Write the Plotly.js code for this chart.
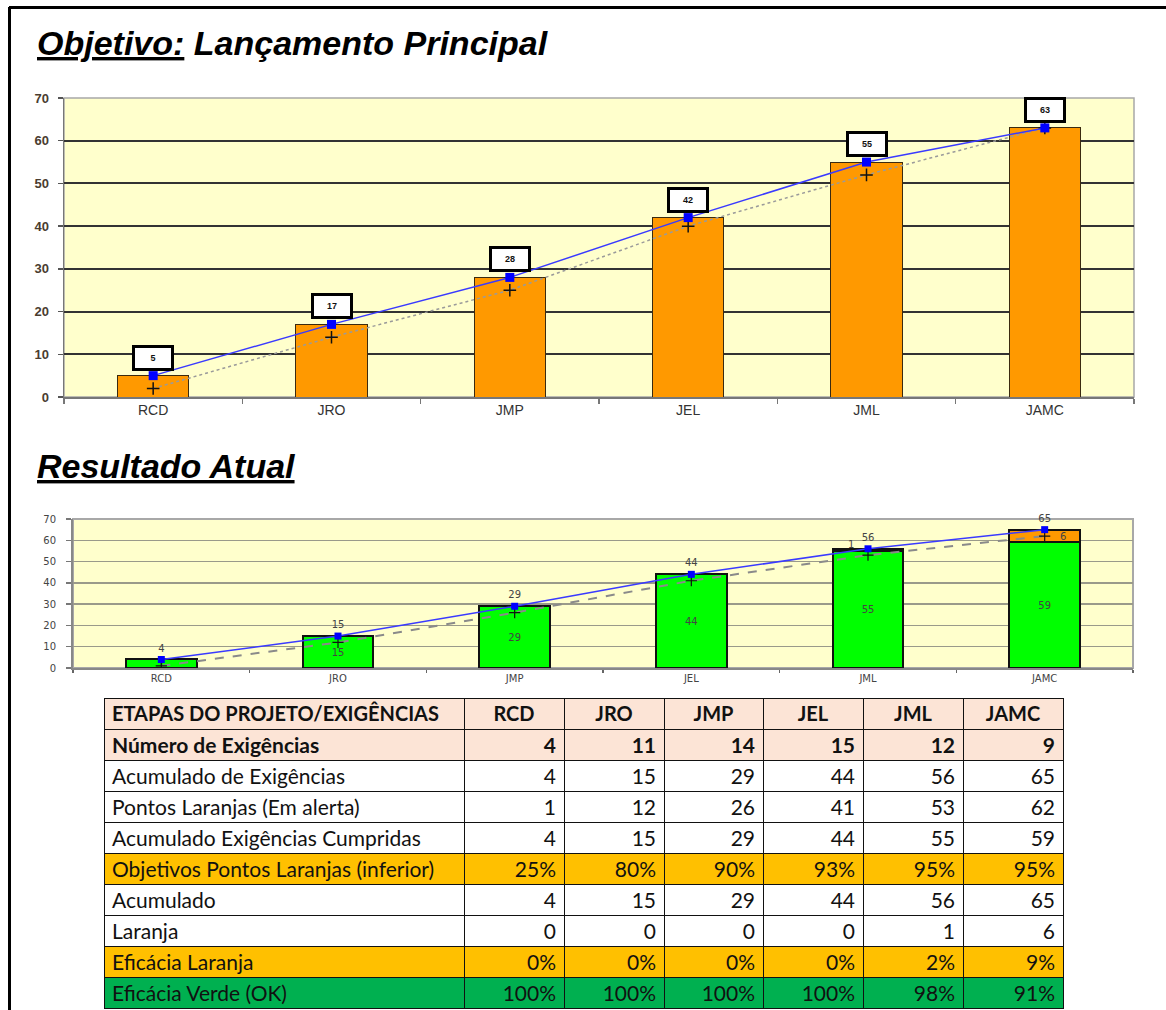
<!DOCTYPE html>
<html>
<head>
<meta charset="utf-8">
<script src="https://cdn.plot.ly/plotly-3.0.1.min.js"></script>
<style>html,body{margin:0;padding:0;background:#fff;}#chart{width:1166px;height:1010px;}</style>
</head>
<body>
<div id="chart"></div>
<script>
// ---------- DATA ----------
const categories = ['RCD', 'JRO', 'JMP', 'JEL', 'JML', 'JAMC'];
// Top chart: Objetivo
const objetivo = [5, 17, 28, 42, 55, 63];
const objetivoMinimo = [2, 14, 25, 40, 52, 63];
// Table rows
const rowLabels = [
  'Número de Exigências',
  'Acumulado de Exigências',
  'Pontos Laranjas (Em alerta)',
  'Acumulado Exigências Cumpridas',
  'Objetivos Pontos Laranjas (inferior)',
  'Acumulado',
  'Laranja',
  'Eficácia Laranja',
  'Eficácia Verde (OK)'
];
const tableHeaderLabel = 'ETAPAS DO PROJETO/EXIGÊNCIAS';
const numeroExigencias = [4, 11, 14, 15, 12, 9];
const acumuladoExigencias = [4, 15, 29, 44, 56, 65];
const pontosLaranjas = [1, 12, 26, 41, 53, 62];
const acumuladoCumpridas = [4, 15, 29, 44, 55, 59];
const objetivosPontosLaranjasPct = [25, 80, 90, 93, 95, 95];
const acumulado = [4, 15, 29, 44, 56, 65];
const laranja = [0, 0, 0, 0, 1, 6];
const eficaciaLaranjaPct = [0, 0, 0, 0, 2, 9];
const eficaciaVerdePct = [100, 100, 100, 100, 98, 91];

// ---------- HELPERS ----------
const W = 1166, H = 1010;
const px = v => v / W;
const py = v => 1 - v / H;

const ORANGE = '#FF9900';
const GREEN = '#00FF00';
const BLUE = '#0000FF';
const BLUE_LINE = '#3a3aff';
const SMALL_FONT = { family: 'DejaVu Sans', size: 10, color: '#444' };

// ---------- TRACES ----------
const traces = [];
// Top chart
traces.push({
  type: 'bar', x: categories, y: objetivo, xaxis: 'x', yaxis: 'y',
  marker: { color: ORANGE, line: { color: '#3a2a10', width: 1 } },
  hoverinfo: 'skip'
});
traces.push({
  type: 'scatter', mode: 'lines+markers', x: categories, y: objetivoMinimo, xaxis: 'x', yaxis: 'y',
  line: { color: '#9a9a9a', width: 1.5, dash: 'dot' },
  marker: { symbol: 'cross-thin', size: 9, line: { color: '#111', width: 1.5 }, color: '#111' },
  hoverinfo: 'skip'
});
traces.push({
  type: 'scatter', mode: 'lines+markers', x: categories, y: objetivo, xaxis: 'x', yaxis: 'y',
  line: { color: BLUE_LINE, width: 1.5 },
  marker: { symbol: 'square', size: 9, color: BLUE },
  hoverinfo: 'skip'
});
// Bottom chart
traces.push({
  type: 'bar', x: categories, y: acumuladoCumpridas, xaxis: 'x2', yaxis: 'y2',
  marker: { color: GREEN, line: { color: '#111', width: 2 } },
  text: acumuladoCumpridas.map(String), textposition: 'inside', insidetextanchor: 'middle',
  textfont: SMALL_FONT,
  hoverinfo: 'skip'
});
traces.push({
  type: 'bar', x: categories, y: laranja, xaxis: 'x2', yaxis: 'y2',
  marker: { color: ORANGE, line: { color: '#111', width: 2 } },
  hoverinfo: 'skip'
});
traces.push({
  type: 'scatter', mode: 'lines+markers', x: categories, y: pontosLaranjas, xaxis: 'x2', yaxis: 'y2',
  line: { color: '#8a8a8a', width: 2, dash: 'dash' },
  marker: { symbol: 'cross-thin', size: 8, line: { color: '#111', width: 1.2 }, color: '#111' },
  hoverinfo: 'skip'
});
traces.push({
  type: 'scatter', mode: 'lines+markers+text', x: categories, y: acumulado, xaxis: 'x2', yaxis: 'y2',
  line: { color: BLUE_LINE, width: 1.5 },
  marker: { symbol: 'square', size: 7, color: BLUE },
  text: acumulado.map(String), textposition: 'top center', cliponaxis: false,
  textfont: SMALL_FONT,
  hoverinfo: 'skip'
});

// Table
const pct = a => a.map(v => v + '%');
const dataRows = [
  numeroExigencias.map(String),
  acumuladoExigencias.map(String),
  pontosLaranjas.map(String),
  acumuladoCumpridas.map(String),
  pct(objetivosPontosLaranjasPct),
  acumulado.map(String),
  laranja.map(String),
  pct(eficaciaLaranjaPct),
  pct(eficaciaVerdePct)
];
const rowFill = ['#FCE4D6', '#FFFFFF', '#FFFFFF', '#FFFFFF', '#FFC000', '#FFFFFF', '#FFFFFF', '#FFC000', '#00B050'];
const rowWeight = rowLabels.map((l, i) => i === 0 ? 'bold' : 'normal');
const cellValues = [rowLabels].concat(categories.map((c, ci) => dataRows.map(r => r[ci])));
const cellFill = cellValues.map(() => rowFill);
const cellWeight = cellValues.map(() => rowWeight);
traces.push({
  type: 'table',
  domain: { x: [px(104), px(1063)], y: [0, py(698)] },
  columnwidth: [360, 100, 100, 99, 100, 100, 100],
  header: {
    values: [tableHeaderLabel].concat(categories),
    align: ['left'].concat(categories.map(() => 'center')),
    fill: { color: '#FCE4D6' },
    line: { color: '#111', width: 1 },
    font: { family: 'Lato', size: 20, weight: 'bold', color: '#111' },
    height: 31
  },
  cells: {
    values: cellValues,
    align: ['left'].concat(categories.map(() => 'right')),
    fill: { color: cellFill },
    line: { color: '#111', width: 1 },
    font: { family: 'Lato', size: 21, weight: cellWeight, color: '#111' },
    height: 31
  }
});

// ---------- ANNOTATIONS ----------
const annotations = [];
annotations.push({
  xref: 'paper', yref: 'paper', x: px(35), y: py(43), xanchor: 'left', yanchor: 'middle',
  text: '<u>Objetivo:</u> Lançamento Principal', showarrow: false,
  font: { family: 'Liberation Sans', size: 34, weight: 'bold', style: 'italic', color: '#000' }
});
annotations.push({
  xref: 'paper', yref: 'paper', x: px(35), y: py(466), xanchor: 'left', yanchor: 'middle',
  text: '<u>Resultado Atual</u>', showarrow: false,
  font: { family: 'Liberation Sans', size: 34, weight: 'bold', style: 'italic', color: '#000' }
});
objetivo.forEach((v, i) => {
  annotations.push({
    xref: 'x', yref: 'y', x: categories[i], y: v, xanchor: 'center', yanchor: 'bottom', yshift: 5,
    text: '<b>' + v + '</b>', showarrow: false, width: 32, height: 16,
    bgcolor: '#FFFFFF', bordercolor: '#000', borderwidth: 3, borderpad: 2,
    font: { family: 'Liberation Sans', size: 9, color: '#111' }
  });
});
laranja.forEach((v, i) => {
  if (v > 0) {
    const thin = v < 3;
    annotations.push({
      xref: 'x2', yref: 'y2', x: categories[i], y: acumuladoCumpridas[i] + v / 2,
      xshift: thin ? -17 : 18, yshift: thin ? 5 : 0,
      text: String(v), showarrow: false,
      font: SMALL_FONT
    });
  }
});

// ---------- SHAPES ----------
const shapes = [
  { type: 'line', xref: 'paper', yref: 'paper', x0: px(9), x1: 1, y0: py(7.5), y1: py(7.5), line: { color: '#000', width: 3 } },
  { type: 'line', xref: 'paper', yref: 'paper', x0: px(9.5), x1: px(9.5), y0: py(7), y1: 0, line: { color: '#000', width: 3 } },
  { type: 'rect', xref: 'x domain', yref: 'y domain', x0: 0, x1: 1, y0: 0, y1: 1, line: { color: '#a8a8a8', width: 1.5 }, layer: 'below' },
  { type: 'rect', xref: 'x2 domain', yref: 'y2 domain', x0: 0, x1: 1, y0: 0, y1: 1, line: { color: '#a8a8a8', width: 2 }, layer: 'below' }
];

// ---------- LAYOUT ----------
const layout = {
  width: W, height: H,
  margin: { l: 0, r: 0, t: 0, b: 0, autoexpand: false },
  paper_bgcolor: '#FFFFFF',
  plot_bgcolor: '#FFFFCC',
  showlegend: false,
  barmode: 'stack',
  bargap: 0.6,
  xaxis: {
    domain: [px(64), px(1134)], anchor: 'y', type: 'category',
    showline: true, linecolor: '#777', linewidth: 1.5,
    ticks: 'outside', tickson: 'boundaries', ticklen: 5, tickcolor: '#777', tickwidth: 1.5,
    showgrid: false, zeroline: false,
    tickfont: { family: 'Liberation Sans', size: 14, color: '#333' }
  },
  yaxis: {
    domain: [py(397), py(98)], anchor: 'x', range: [0, 70], dtick: 10,
    showline: true, linecolor: '#777', linewidth: 1.5,
    ticks: 'outside', ticklen: 5, tickcolor: '#555', tickwidth: 1.5, ticklabelstandoff: 6,
    showgrid: true, gridcolor: '#333', gridwidth: 2, zeroline: false,
    tickfont: { family: 'Liberation Sans', size: 13, weight: 'bold', color: '#4a3d30' }
  },
  xaxis2: {
    domain: [px(73), px(1133)], anchor: 'y2', type: 'category',
    showline: true, linecolor: '#888', linewidth: 2,
    ticks: 'outside', tickson: 'boundaries', ticklen: 3, tickcolor: '#666', tickwidth: 1.5,
    showgrid: false, zeroline: false,
    tickfont: SMALL_FONT
  },
  yaxis2: {
    domain: [py(668), py(519)], anchor: 'x2', range: [0, 70], dtick: 10,
    showline: true, linecolor: '#888', linewidth: 2,
    ticks: 'outside', ticklen: 5, tickcolor: '#777', tickwidth: 1.5, ticklabelstandoff: 8,
    showgrid: true, gridcolor: '#9a9a8a', gridwidth: 1.5, zeroline: false,
    tickfont: SMALL_FONT
  },
  annotations: annotations,
  shapes: shapes
};

Plotly.newPlot('chart', traces, layout, { staticPlot: true, displayModeBar: false });
</script>
</body>
</html>
